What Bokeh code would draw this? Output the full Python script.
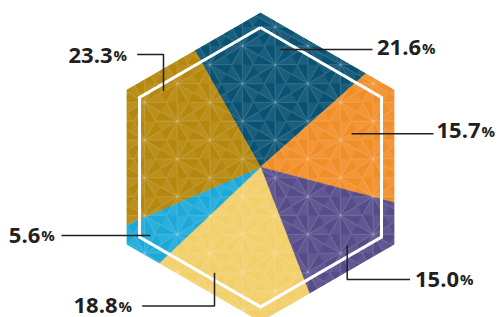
import math
from bokeh.plotting import figure
from bokeh.models import Range1d
from bokeh.embed import file_html
from bokeh.resources import INLINE
from bokeh.core.properties import value

# ---- data (clockwise from the top-left boundary of the dark blue slice) ----
labels = ["21.6", "15.7", "15.0", "18.8", "5.6", "23.3"]
values = [21.6, 15.7, 15.0, 18.8, 5.6, 23.3]
colors = ["#0a5273", "#f28e28", "#564c8a", "#f2cf68", "#1ca9d9", "#b5870c"]

# ---- layout (picture pixel coordinates) ----
W, H = 499, 317
CX, CY = 260.0, 166.7
R_OUT = 154.7
R_IN = 139.7
START_DEG = -29.4
TEXT_X = [376.5, 436.0, 414.5, 73.0, 8.3, 68.0]
TEXT_Y = [55.0, 138.3, 286.7, 313.0, 242.7, 62.5]
BASELINE_SHIFT = -8.0
LEAD_XS = [[280, 372], [351, 433], [346.7, 346.7, 409.5], [214, 214, 141.7], [150, 61], [163, 163, 136.7]]
LEAD_YS = [[49, 49], [133.3, 133.3], [245, 279, 279], [272.3, 305.5, 305.5], [235, 235], [90.7, 54, 54]]
FONT = "Open Sans"
NUM_SIZE = 22
PCT_SIZE = 15
TEXT_COLOR = "#231f20"
LATTICE = 37.7
LAT_ORIGIN = (340.0, 215.0)


def pt(theta_deg, r):
    t = math.radians(theta_deg)
    return (CX + r * math.sin(t), CY - r * math.cos(t))


def hex_r(theta_deg, R):
    apothem = R * math.cos(math.radians(30))
    d = (theta_deg % 60) - 30
    return apothem / math.cos(math.radians(d))


def hexagon(R):
    return [pt(k * 60, R) for k in range(6)]


p = figure(width=W, height=H, output_backend="svg", toolbar_location=None,
           x_range=Range1d(0, W), y_range=Range1d(H, 0), min_border=0)
p.axis.visible = False
p.grid.visible = False
p.outline_line_color = None
p.background_fill_color = "white"
p.border_fill_color = "white"

# ---- slices clipped to the outer hexagon ----
total = sum(values)
a0 = START_DEG
sx, sy = [], []
for v in values:
    a1 = a0 + 360.0 * v / total
    poly = [(CX, CY), pt(a0, hex_r(a0, R_OUT))]
    k = math.floor(a0 / 60) + 1
    while k * 60 < a1:
        poly.append(pt(k * 60, R_OUT))
        k += 1
    poly.append(pt(a1, hex_r(a1, R_OUT)))
    sx.append([q[0] for q in poly])
    sy.append([q[1] for q in poly])
    a0 = a1
p.patches(sx, sy, fill_color=colors, line_color=colors, line_width=0.6)

# ---- asanoha pattern ----
a = LATTICE
v1 = (0.0, a)
v2 = (a * math.cos(math.radians(30)), a / 2)
ox, oy = LAT_ORIGIN


def lp(i, j):
    return (ox + i * v1[0] + j * v2[0], oy + i * v1[1] + j * v2[1])


line_xs, line_ys = [], []
fill_xs, fill_ys = [], []
for i in range(-16, 17):
    for j in range(-12, 8):
        P = lp(i, j)
        if not (60 < P[0] < 460 and -40 < P[1] < 370):
            continue
        for Q in (lp(i + 1, j), lp(i, j + 1), lp(i - 1, j + 1)):
            line_xs.append([P[0], Q[0]])
            line_ys.append([P[1], Q[1]])
        for tri in ((P, lp(i, j + 1), lp(i + 1, j)), (lp(i + 1, j), lp(i, j + 1), lp(i + 1, j + 1))):
            A, B, C = tri
            cross = (B[0] - A[0]) * (C[1] - A[1]) - (B[1] - A[1]) * (C[0] - A[0])
            if cross < 0:
                B, C = C, B
            G = ((A[0] + B[0] + C[0]) / 3, (A[1] + B[1] + C[1]) / 3)
            for V in (A, B, C):
                line_xs.append([G[0], V[0]])
                line_ys.append([G[1], V[1]])
            for U, Wp in ((A, B), (B, C), (C, A)):
                M = ((U[0] + Wp[0]) / 2, (U[1] + Wp[1]) / 2)
                fill_xs.append([G[0], U[0], M[0]])
                fill_ys.append([G[1], U[1], M[1]])

p.patches(fill_xs, fill_ys, fill_color="white", fill_alpha=0.07, line_color=None)
p.multi_line(line_xs, line_ys, line_color="white", line_alpha=0.12, line_width=1.3)

# ---- white mask outside the outer hexagon ----
ho = hexagon(R_OUT)
mask_outer_x = [-10, W + 10, W + 10, -10]
mask_outer_y = [-10, -10, H + 20, H + 20]
p.multi_polygons(xs=[[[mask_outer_x, [q[0] for q in ho]]]],
                 ys=[[[mask_outer_y, [q[1] for q in ho]]]],
                 fill_color="white", line_color=None)

# ---- inner white hexagon outline ----
hi = hexagon(R_IN)
p.line([q[0] for q in hi] + [hi[0][0]], [q[1] for q in hi] + [hi[0][1]],
       line_color="white", line_width=3, line_join="miter")

# ---- leader lines ----
p.multi_line(LEAD_XS, LEAD_YS, line_color=TEXT_COLOR, line_width=1.5)

# ---- labels ----
def num_width(s):
    return sum((0.572 if ch.isdigit() else 0.286) for ch in s) * NUM_SIZE

ty = [y + BASELINE_SHIFT for y in TEXT_Y]
pct_x = [x + num_width(s) + 1.0 for x, s in zip(TEXT_X, labels)]
p.text(x=TEXT_X, y=ty, text=labels, text_font=value(FONT), text_font_style="bold",
       text_font_size=f"{NUM_SIZE}px", text_color=TEXT_COLOR,
       text_align="left", text_baseline="alphabetic")
p.text(x=pct_x, y=ty, text=["%"] * len(labels), text_font=value(FONT), text_font_style="bold",
       text_font_size=f"{PCT_SIZE}px", text_color=TEXT_COLOR,
       text_align="left", text_baseline="alphabetic")

open("out.html", "w").write(file_html(p, INLINE))
